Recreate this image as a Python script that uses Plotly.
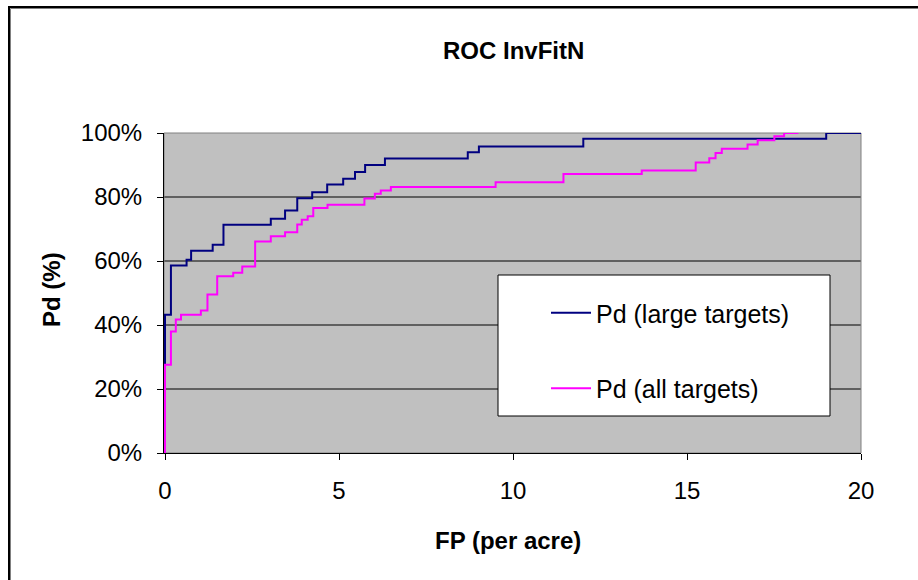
import plotly.graph_objects as go

# ── Data (step points) ────────────────────────────────────────────────────────

fp_large = [0, 0, 0.17, 0.62, 0.75, 1.37, 1.68, 3.04, 3.45, 3.80, 4.23, 4.66,
            5.12, 5.46, 5.75, 6.32, 8.70, 9.02, 12.02, 19.0, 20]
pd_large = [27.6, 43.2, 58.6, 60.4, 63.2, 65.1, 71.3, 73.2, 75.8, 79.6, 81.5, 83.9,
            85.7, 87.8, 90.0, 92.0, 94.0, 95.8, 98.2, 100, 100]

fp_all = [0, 0, 0.17, 0.31, 0.46, 1.03, 1.22, 1.50, 1.96, 2.22, 2.59, 3.04,
          3.45, 3.80, 3.93, 4.10, 4.26, 4.67, 5.73, 6.03, 6.20, 6.49, 9.50,
          11.45, 13.70, 15.25, 15.64, 15.82, 16.0, 16.74, 17.03, 17.51, 17.79, 18.2]
pd_all = [0, 27.6, 38.0, 41.7, 43.2, 44.5, 49.5, 55.2, 56.3, 58.3, 66.1, 67.7,
          69.0, 71.4, 72.9, 74.0, 76.6, 77.6, 79.5, 81.0, 82.0, 83.1, 84.6,
          87.2, 88.3, 90.8, 92.1, 93.75, 95.1, 96.4, 97.7, 99.0, 100, 100]

x_ticks = [0, 5, 10, 15, 20]
y_ticks = [0, 20, 40, 60, 80, 100]
y_tick_labels = ["0%", "20%", "40%", "60%", "80%", "100%"]
grid_levels = [20, 40, 60, 80]

FONT = "Liberation Sans, Arial, sans-serif"

# plot area in pixels: x 164..861, y 133..453 (x=0 sits ~1px inside the left edge
# so the vertical segments at FP=0 are not clipped away)
L, R, T, B = 164, 861, 133, 453
W, H = R - L, B - T
X_MIN = -0.029


def px(x):
    return (x - L) / W


def py(y):
    return (B - y) / H


fig = go.Figure()

fig.add_trace(go.Scatter(
    x=fp_large, y=pd_large, mode="lines", line_shape="hv",
    line=dict(color="#000080", width=2),
    name="Pd (large targets)", legendgroup="a",
))
fig.add_trace(go.Scatter(
    x=fp_all, y=pd_all, mode="lines", line_shape="hv",
    line=dict(color="#FF00FF", width=2),
    name="Pd (all targets)", legendgroup="b",
))

shapes = []
# gridlines
for g in grid_levels:
    shapes.append(dict(type="line", xref="paper", yref="y", x0=0, x1=1, y0=g, y1=g,
                       line=dict(color="black", width=1), layer="below"))
# plot area border (grey top / right)
shapes.append(dict(type="rect", xref="paper", yref="paper", x0=0, x1=1, y0=0, y1=1,
                   line=dict(color="#808080", width=1), layer="below"))
# legend box
shapes.append(dict(type="rect", xref="paper", yref="paper",
                   x0=px(498), x1=px(830), y0=py(416), y1=py(275),
                   line=dict(color="black", width=1), fillcolor="white", layer="below"))
# outer chart frame (only top / left edges are inside the picture)
shapes.append(dict(type="rect", xref="paper", yref="paper",
                   x0=px(10.5), x1=px(940), y0=py(600), y1=py(8.5),
                   line=dict(color="#808080", width=1), layer="above"))
shapes.append(dict(type="rect", xref="paper", yref="paper",
                   x0=px(9), x1=px(940), y0=py(600), y1=py(7),
                   line=dict(color="black", width=2), layer="above"))

annotations = [
    dict(text="<b>ROC InvFitN</b>", xref="paper", yref="paper", x=px(513), y=py(51),
         xanchor="center", yanchor="middle",
         showarrow=False, font=dict(family=FONT, size=24, color="black")),
    dict(text="<b>FP (per acre)</b>", xref="paper", yref="paper", x=px(508), y=py(540),
         xanchor="center", yanchor="middle",
         showarrow=False, font=dict(family=FONT, size=24, color="black")),
    dict(text="<b>Pd (%)</b>", xref="paper", yref="paper", x=px(51), y=py(290),
         xanchor="center", yanchor="middle",
         textangle=-90, showarrow=False, font=dict(family=FONT, size=24, color="black")),
]

fig.update_layout(
    width=918, height=580,
    margin=dict(l=L, r=918 - R, t=T, b=580 - B),
    paper_bgcolor="white",
    plot_bgcolor="#C0C0C0",
    font=dict(family=FONT, size=24, color="black"),
    shapes=shapes,
    annotations=annotations,
    showlegend=True,
    legend=dict(x=px(546), y=py(290), xanchor="left", yanchor="top",
                bgcolor="rgba(0,0,0,0)", borderwidth=0,
                font=dict(family=FONT, size=25, color="black"),
                tracegroupgap=40, itemwidth=40),
)
fig.update_xaxes(
    range=[X_MIN, 20], tickvals=x_ticks, showgrid=False, zeroline=False,
    showline=True, linecolor="black", linewidth=1, layer="below traces",
    ticks="outside", ticklen=6, tickcolor="black", ticklabelstandoff=10,
    fixedrange=True,
)
fig.update_yaxes(
    range=[0, 100], tickvals=y_ticks, ticktext=y_tick_labels,
    showgrid=False, zeroline=False,
    showline=True, linecolor="black", linewidth=1, layer="below traces",
    ticks="outside", ticklen=6, tickcolor="black", ticklabelstandoff=10,
    fixedrange=True,
)

fig.write_html("out.html", post_script="document.body.style.margin='0px';",
               config={"displayModeBar": False})
